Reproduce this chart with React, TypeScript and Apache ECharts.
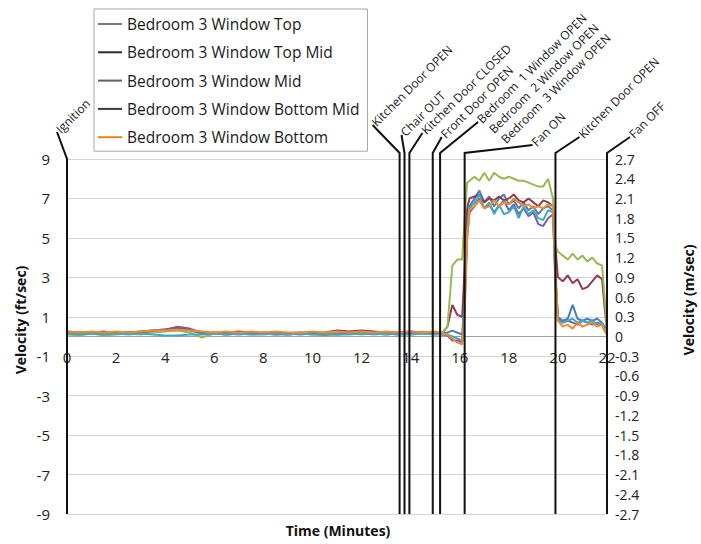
import React, { useEffect, useRef } from "react";
import * as echarts from "echarts";

// ---- data ----
const minutes = [
  0, 0.5, 1, 1.5, 2, 2.5, 3, 3.5, 4, 4.5, 5, 5.5, 6, 6.5, 7, 7.5, 8, 8.5, 9, 9.5, 10, 10.5, 11, 11.5, 12, 12.5, 13, 13.5, 14, 14.5, 15,
  15.3, 15.5, 15.7, 15.9, 16.1, 16.2, 16.3, 16.4,
  16.6, 16.8, 17.0, 17.2, 17.4, 17.6, 17.8, 18.0, 18.2, 18.4, 18.6, 18.8, 19.0, 19.2, 19.4, 19.6, 19.8,
  19.9, 20.0,
  20.2, 20.4, 20.6, 20.8, 21.0, 21.2, 21.4, 21.6, 21.8,
  21.9, 22.0,
];

const seriesNames = [
  "Bedroom 3 Window Top",
  "Bedroom 3 Window Top Mid",
  "Bedroom 3 Window Mid",
  "Bedroom 3 Window Bottom Mid",
  "Bedroom 3 Window Bottom",
];
const extraSeriesName = "Bedroom 3 Window (unlisted)";

const topValues = [
  0.2, 0.15, 0.2, 0.15, 0.2, 0.2, 0.15, 0.25, 0.3, 0.4, 0.3, 0.15, 0.2, 0.15, 0.1, 0.15, 0.2, 0.15, 0.1, 0.15, 0.2, 0.15, 0.1, 0.15, 0.2, 0.15, 0.1, 0.15, 0.2, 0.15, 0.2,
  0.15, 0.2, 0.3, 0.2, 0.1, 2.0, 5.5, 6.6,
  7.0, 7.4, 6.8, 7.1, 6.6, 7.0, 7.2, 6.7, 6.9, 6.5, 6.8, 6.4, 6.6, 6.2, 6.5, 6.6, 6.4,
  3.0, 1.0,
  0.8, 0.9, 1.6, 0.9, 0.8, 0.9, 0.8, 0.9, 0.7,
  0.5, 0.3,
];
const topMidValues = [
  0.25, 0.2, 0.2, 0.25, 0.15, 0.2, 0.25, 0.3, 0.35, 0.45, 0.35, 0.2, 0.15, 0.2, 0.25, 0.2, 0.15, 0.2, 0.15, 0.2, 0.15, 0.2, 0.3, 0.25, 0.3, 0.25, 0.2, 0.2, 0.25, 0.2, 0.2,
  0.2, 0.5, 1.6, 1.1, 1.0, 3.5, 6.5, 7.0,
  7.1, 7.2, 6.8, 7.0, 6.9, 7.1, 6.9, 7.0, 7.2, 6.9, 6.8, 7.0, 6.8, 6.6, 6.9, 6.8, 6.6,
  4.5, 3.0,
  2.8, 3.1, 2.7, 2.9, 2.4, 2.5, 2.8, 3.1, 2.9,
  1.5, 0.3,
];
const midValues = [
  0.1, 0.05, 0.15, 0.05, 0.1, 0.15, 0.1, 0.2, 0.25, 0.3, 0.2, -0.05, 0.15, 0.1, 0.15, 0.1, 0.15, 0.1, 0.1, 0.15, 0.1, 0.05, 0.1, 0.15, 0.1, 0.15, 0.1, 0.15, 0.1, 0.15, 0.1,
  0.2, 0.5, 3.6, 3.9, 3.9, 6.0, 7.8, 7.9,
  8.1, 7.9, 8.3, 7.9, 8.3, 8.1, 8.0, 8.1, 8.0, 7.9, 7.9, 7.8, 7.7, 7.6, 7.6, 8.0, 7.0,
  4.6, 4.3,
  4.1, 3.9, 4.2, 3.9, 4.1, 3.8, 4.0, 3.7, 3.6,
  2.0, 0.4,
];
const bottomMidValues = [
  0.2, 0.2, 0.15, 0.2, 0.15, 0.2, 0.2, 0.3, 0.35, 0.5, 0.4, 0.2, 0.15, 0.1, 0.15, 0.2, 0.15, 0.1, 0.15, 0.1, 0.15, 0.1, 0.15, 0.2, 0.15, 0.2, 0.15, 0.1, 0.15, 0.2, 0.15,
  0.1, 0.05, -0.2, -0.2, -0.3, 1.5, 5.0, 6.3,
  6.6, 7.0, 6.5, 6.7, 6.3, 6.6, 6.9, 6.4, 6.7, 6.2, 6.5, 6.1, 6.3, 5.7, 5.6, 6.0, 6.2,
  3.0, 0.9,
  0.7, 0.8, 0.7, 0.6, 0.8, 0.7, 0.6, 0.7, 0.6,
  0.3, 0.1,
];
const unlistedValues = [
  0.15, 0.1, 0.15, 0.1, 0.15, 0.1, 0.15, 0.1, 0.05, 0.05, 0.1, 0.1, 0.15, 0.1, 0.15, 0.1, 0.1, 0.15, 0.1, 0.15, 0.1, 0.15, 0.1, 0.1, 0.15, 0.1, 0.15, 0.1, 0.1, 0.15, 0.1,
  0.1, 0.1, 0.0, -0.1, -0.2, 1.8, 5.3, 6.5,
  6.8, 7.2, 6.5, 6.8, 6.2, 6.7, 6.2, 6.3, 6.6, 6.0, 6.6, 6.2, 6.4, 6.0, 5.9, 6.4, 6.3,
  2.5, 0.8,
  0.7, 0.8, 0.9, 0.7, 0.8, 0.7, 0.8, 0.6, 0.7,
  0.4, 0.2,
];
const bottomValues = [
  0.25, 0.2, 0.25, 0.2, 0.25, 0.2, 0.25, 0.3, 0.3, 0.35, 0.3, 0.25, 0.2, 0.25, 0.2, 0.25, 0.2, 0.25, 0.2, 0.2, 0.25, 0.2, 0.25, 0.2, 0.25, 0.2, 0.25, 0.2, 0.25, 0.2, 0.25,
  0.15, 0.1, -0.1, -0.3, -0.4, 1.0, 5.0, 6.4,
  6.6, 6.9, 6.5, 6.6, 6.9, 6.6, 6.8, 6.7, 7.0, 6.8, 6.6, 6.7, 6.5, 6.6, 6.5, 6.7, 6.6,
  3.5, 0.8,
  0.5, 0.6, 0.4, 0.7, 0.5, 0.6, 0.7, 0.5, 0.6,
  0.3, 0.1,
];

const eventMinutes = [0, 13.55, 13.75, 13.95, 14.9, 15.2, 16.2, 19.9, 22];
const eventLabels = [
  "Ignition",
  "Kitchen Door OPEN",
  "Chair OUT",
  "Kitchen Door CLOSED",
  "Front Door OPEN",
  "Bedroom  1 Window OPEN\nBedroom  2 Window OPEN\nBedroom  3 Window OPEN",
  "Fan ON",
  "Kitchen Door OPEN",
  "Fan OFF",
];

const xTicks = { min: 0, max: 22, interval: 2 };
const ftTicks = { min: -9, max: 9, interval: 2 };
const msTicks = { min: -2.7, max: 2.7, interval: 0.3 };

// ---- layout / style (not data) ----
const leaderOffsets = [
  [-10, -27], [-27, -28], [-3, -18], [13, -20], [9, -16], [38, -31], [68, -8], [24, -16], [23, -16],
];
const riseAbove = [0, 6, 6, 6, 6, 6, 6, 6, 6];
const seriesColors = ["#4a7ebb", "#953a4e", "#98b954", "#7a5ea0", "#3fa9c9", "#f08a2c"];
const legendIconColors = ["#7a7a7a", "#2a2a2a", "#606060", "#3a3a3a", "#f07f1a"];
const FONT = '"Open Sans", "Noto Sans", sans-serif';
const GRID = { left: 67, right: 94, top: 159, bottom: 30 };

export default function App() {
  const ref = useRef<HTMLDivElement>(null);
  useEffect(() => {
    if (!ref.current) return;
    const chart = echarts.init(ref.current, undefined, { renderer: "svg" });
    const allValues = [topValues, topMidValues, midValues, bottomMidValues, unlistedValues, bottomValues];
    const allNames = [seriesNames[0], seriesNames[1], seriesNames[2], seriesNames[3], extraSeriesName, seriesNames[4]];
    const lineSeries = allValues.map((vals, i) => ({
      name: allNames[i],
      type: "line",
      xAxisIndex: 0,
      yAxisIndex: 0,
      symbol: "none",
      data: minutes.map((m, k) => [m, vals[k]]),
      lineStyle: { color: seriesColors[i], width: 2 },
      itemStyle: { color: seriesColors[i] },
      z: 3,
    }));

    const eventSeries = {
      type: "custom",
      coordinateSystem: "cartesian2d",
      xAxisIndex: 0,
      yAxisIndex: 0,
      clip: false,
      silent: true,
      z: 6,
      data: eventMinutes.map((t, i) => [t, i]),
      renderItem: (params: any, api: any) => {
        const t = api.value(0);
        const i = api.value(1);
        const bottom = api.coord([t, ftTicks.min]);
        const top = api.coord([t, ftTicks.max]);
        const rise = riseAbove[i];
        const [dx, dy] = leaderOffsets[i];
        const bx = top[0];
        const by = top[1] - rise;
        const ex = bx + dx;
        const ey = by + dy;
        const lines = eventLabels[i].split("\n");
        const children: any[] = [
          {
            type: "polyline",
            shape: { points: [bottom, [bx, by], [ex, ey]] },
            style: { stroke: "#111", lineWidth: 2, fill: "none" },
          },
        ];
        lines.forEach((txt, k) => {
          children.push({
            type: "text",
            x: ex + 1 + k * 12,
            y: ey - 1 + k * 10,
            rotation: Math.PI / 4,
            style: {
              text: txt,
              fill: "#1a1a1a",
              font: `12px ${FONT}`,
              align: "left",
              verticalAlign: "middle",
            },
          });
        });
        return { type: "group", children };
      },
    };

    const buildOption = (xOffset: number) => ({
      animation: false,
      backgroundColor: "#fff",
      textStyle: { fontFamily: FONT },
      grid: { ...GRID, containLabel: false },
      legend: {
        orient: "vertical",
        left: 94,
        top: 9,
        icon: "rect",
        itemWidth: 24,
        itemHeight: 2,
        itemGap: 12.3,
        padding: [7, 8, 6, 4],
        borderColor: "#a6a6a6",
        borderWidth: 1,
        backgroundColor: "#fff",
        textStyle: { fontFamily: FONT, fontSize: 15.5, color: "#1a1a1a" },
        data: seriesNames.map((n, i) => ({
          name: n,
          itemStyle: { color: legendIconColors[i], borderWidth: 0 },
        })),
        z: 10,
      },
      xAxis: {
        type: "value",
        min: xTicks.min,
        max: xTicks.max,
        interval: xTicks.interval,
        offset: xOffset,
        axisLine: { show: true, onZero: false, lineStyle: { color: "#a0a0a0", width: 1 } },
        axisTick: { show: false },
        splitLine: { show: false },
        axisLabel: { fontSize: 15, color: "#222", margin: 13, fontFamily: FONT },
      },
      yAxis: [
        {
          type: "value",
          min: ftTicks.min,
          max: ftTicks.max,
          interval: ftTicks.interval,
          axisLine: { show: false },
          axisTick: { show: false },
          splitLine: { show: true, lineStyle: { color: "#d4d4d4", width: 1 } },
          axisLabel: { fontSize: 15, color: "#222", margin: 17, fontFamily: FONT },
        },
        {
          type: "value",
          position: "right",
          min: msTicks.min,
          max: msTicks.max,
          interval: msTicks.interval,
          axisLine: { show: false },
          axisTick: { show: false },
          splitLine: { show: false },
          axisLabel: {
            fontSize: 14,
            color: "#222",
            margin: 8,
            fontFamily: FONT,
            formatter: (v: number) => {
              const r = Math.round(v * 10) / 10;
              return r === 0 ? "0" : r.toFixed(1);
            },
          },
        },
      ],
      graphic: [
        {
          type: "text",
          x: 20,
          y: 320,
          rotation: Math.PI / 2,
          style: { text: "Velocity (ft/sec)", font: `bold 14px ${FONT}`, fill: "#111", align: "center", verticalAlign: "middle" },
        },
        {
          type: "text",
          x: 688,
          y: 300,
          rotation: Math.PI / 2,
          style: { text: "Velocity (m/sec)", font: `bold 14px ${FONT}`, fill: "#111", align: "center", verticalAlign: "middle" },
        },
        {
          type: "text",
          x: 338,
          y: 530,
          style: { text: "Time (Minutes)", font: `bold 14px ${FONT}`, fill: "#111", align: "center", verticalAlign: "middle" },
        },
      ],
      series: [...lineSeries, eventSeries],
    });

    chart.setOption(buildOption(0));
    // move the time axis (line + labels) up to the zero of the velocity scale
    const zeroY = chart.convertToPixel({ yAxisIndex: 0 }, 0) as number;
    const bottomY = chart.convertToPixel({ yAxisIndex: 0 }, ftTicks.min) as number;
    chart.setOption({ xAxis: { offset: zeroY - bottomY } });
    return () => chart.dispose();
  }, []);
  return <div ref={ref} style={{ position: "fixed", left: 0, top: 0, width: 701, height: 544 }} />;
}
